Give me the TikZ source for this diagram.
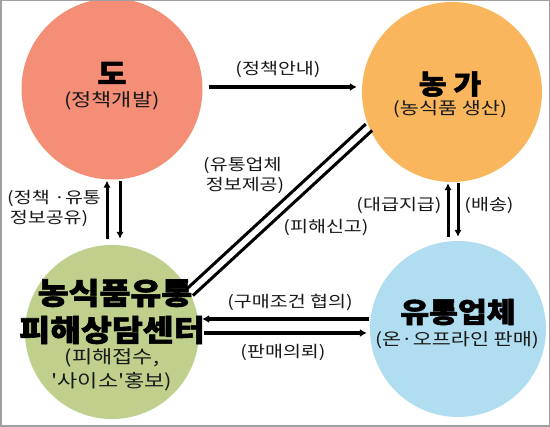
\documentclass[tikz,border=0pt]{standalone}
\usepackage{fontspec}
\setmainfont{Noto Sans CJK KR}
\newfontfamily\lblfont{Noto Sans CJK KR}[FakeStretch=1.22, Ligatures=TeXOff]
\newfontfamily\heavyfont{Noto Sans CJK KR}[FakeStretch=1.12, BoldFeatures={FakeBold=2}]
\usetikzlibrary{arrows.meta,calc}
\definecolor{doC}{RGB}{244,142,118}
\definecolor{nongC}{RGB}{250,182,92}
\definecolor{centC}{RGB}{190,208,140}
\definecolor{yuC}{RGB}{176,221,240}
\definecolor{frameC}{RGB}{160,160,160}
\begin{document}
\begin{tikzpicture}[x=1pt,y=-1pt,
  bubble/.style={circle,inner sep=0pt,minimum size=#1},
  lbl/.style={font=\lblfont\fontsize{16}{19}\selectfont, text=black!90, inner sep=0pt},
  sub/.style={font=\lblfont\fontsize{18}{21}\selectfont, text=black!90, inner sep=0pt},
  big/.style={font=\heavyfont\fontsize{27}{30}\selectfont\bfseries, text=black, inner sep=0pt},
  arr/.style={line width=3pt, draw=black, -{Latex[length=7pt,width=7.5pt]}},
  harr/.style={line width=4.5pt, draw=black, -{Latex[length=7pt,width=8pt]}},
  dbl/.style={line width=3pt, draw=black}]
\useasboundingbox (0,0) rectangle (550,427);
\fill[white] (0,0) rectangle (550,427);
% circles
\node[bubble=181pt, fill=doC] (do) at (112,89) {};
\node[bubble=180pt, fill=nongC] (nong) at (452,92) {};
\node[bubble=174pt, fill=centC] (cent) at (112,332) {};
\node[bubble=176pt, fill=yuC] (yu) at (458,329) {};
% circle texts
\node[big, font=\heavyfont\fontsize{28}{30}\selectfont\bfseries] (doT) at (112,73) {도};
\node[sub] (doS) at (112,101) {(정책개발)};
\node[big] (nongT) at (450,84) {농 가};
\node[sub, font=\lblfont\fontsize{17}{20}\selectfont] (nongS) at (450,109) {(농식품 생산)};
\node[big, font=\heavyfont\fontsize{30}{32}\selectfont\bfseries] (centT1) at (115,293) {농식품유통};
\node[big, font=\heavyfont\fontsize{30}{32}\selectfont\bfseries] (centT2) at (112,330) {피해상담센터};
\node[sub] (centS1) at (112,358) {(피해접수,};
\node[sub] (centS2) at (112,382) {'사이소'홍보)};
\node[big, font=\heavyfont\fontsize{28}{32}\selectfont\bfseries] (yuT) at (458,312) {유통업체};
\node[sub, font=\lblfont\fontsize{17}{20}\selectfont] (yuS) at (457,340) {(온·오프라인 판매)};
% connectors
\draw[harr, line width=3.5pt, shorten <=6pt, shorten >=5pt] ([yshift=2pt]do.east) -- ([yshift=2pt]do.east -| nong.west);
\draw[arr, shorten <=6pt, shorten >=1pt] ([xshift=-5pt]cent.north) -- ([xshift=-5pt]cent.north |- do.south);
\draw[arr, shorten <=1pt, shorten >=6pt] ([xshift=8pt]do.south) -- ([xshift=8pt]do.south |- cent.north);
\draw[arr, shorten <=4pt, shorten >=1pt] ([xshift=-4pt]nong.south |- yu.north) -- ([xshift=-4pt]nong.south);
\draw[arr, shorten <=1pt, shorten >=4pt] ([xshift=6pt]nong.south) -- ([xshift=6pt]nong.south |- yu.north);
\draw[dbl] ([shift={(-3.2,-3.2)}]cent.27) -- ([shift={(-3.2,-3.2)}]nong.203);
\draw[dbl] ([shift={(3.2,3.2)}]cent.27) -- ([shift={(3.2,3.2)}]nong.203);
\draw[harr, shorten <=1pt, shorten >=3pt] ([yshift=10pt]yu.west) -- ([yshift=10pt]yu.west -| cent.east);
\draw[harr, shorten <=5pt, shorten >=3pt] ([yshift=-4pt]yu.west -| cent.east) -- ([yshift=-4pt]yu.west);
% labels
\node[lbl] (l1) at (278,69) {(정책안내)};
\node[lbl, align=left, anchor=west] (l2) at (7,208) {(정책 ·유통\\[1pt]\,정보공유)};
\node[lbl, align=left, anchor=west] (l3) at (203,175) {(유통업체\\[1pt]\,정보제공)};
\node[lbl] (l4) at (326,227) {(피해신고)};
\node[lbl] (l5) at (399,205) {(대급지급)};
\node[lbl] (l6) at (489,205) {(배송)};
\node[lbl] (l7) at (290,302) {(구매조건 협의)};
\node[lbl] (l8) at (283,352) {(판매의뢰)};
% frame
\draw[frameC, line width=1.5pt] (0.75,0.75) rectangle (549.25,426.25);
\end{tikzpicture}
\end{document}
